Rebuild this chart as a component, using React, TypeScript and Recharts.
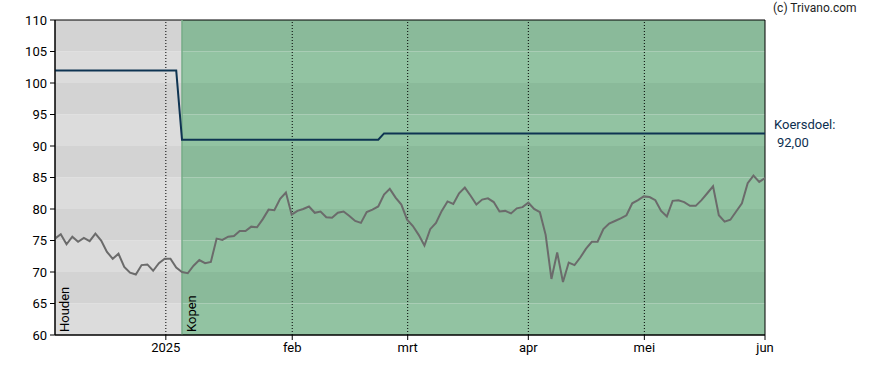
import React from "react";
import {
  LineChart,
  Line,
  XAxis,
  YAxis,
  ReferenceArea,
  ReferenceLine,
} from "recharts";

// closing price per trading day (index 0 = early Dec 2024)
const prices = [
  75.3, 76.0, 74.4, 75.6, 74.8, 75.4, 74.9, 76.1, 75.0, 73.2,
  72.1, 72.9, 70.8, 69.9, 69.6, 71.1, 71.2, 70.2, 71.4, 72.1,
  72.1, 70.7, 70.0, 69.8, 71.0, 71.9, 71.4, 71.6, 75.3, 75.1,
  75.6, 75.7, 76.5, 76.5, 77.2, 77.1, 78.4, 79.9, 79.8, 81.6,
  82.6, 79.1, 79.7, 80.0, 80.4, 79.4, 79.6, 78.7, 78.6, 79.4,
  79.6, 78.9, 78.1, 77.8, 79.5, 79.9, 80.4, 82.3, 83.2, 81.8,
  80.7, 78.3, 77.3, 75.9, 74.2, 76.8, 77.8, 79.7, 81.2, 80.8,
  82.5, 83.4, 82.1, 80.7, 81.5, 81.7, 81.1, 79.6, 79.7, 79.3,
  80.1, 80.3, 81.0, 80.0, 79.5, 75.9, 68.9, 73.1, 68.4, 71.5,
  71.1, 72.3, 73.7, 74.8, 74.8, 76.8, 77.7, 78.1, 78.5, 79.0,
  80.9, 81.4, 82.0, 81.9, 81.4, 79.7, 78.8, 81.3, 81.4, 81.1,
  80.5, 80.5, 81.4, 82.5, 83.6, 79.0, 78.0, 78.3, 79.6, 80.9,
  84.1, 85.3, 84.3, 84.9,
];

// koersdoel (price target) steps
const targetIdx = [0, 21, 22, 56, 57, 123];
const targetVals = [102, 102, 91, 91, 92, 92];

// advice zones
const adviceFrom = [0, 22];
const adviceTo = [22, 123];
const adviceLabels = ["Houden", "Kopen"];

// x axis month ticks (trading day index)
const monthTicks = [19.2, 41.1, 61.1, 82, 102.1, 123];
const monthLabels = ["2025", "feb", "mrt", "apr", "mei", "jun"];

const yTicks = [60, 65, 70, 75, 80, 85, 90, 95, 100, 105, 110];
const bandLows = [60, 65, 70, 75, 80, 85, 90, 95, 100, 105];

const zoneColors = [
  { dark: "#d3d3d3", light: "#dcdcdc" },
  { dark: "#8aba9a", light: "#92c3a2" },
];

const FONT = "Roboto, Arial, sans-serif";

const ZoneText = (props: any) => {
  const vb = props.viewBox || {};
  const x = vb.x + 14;
  const y = vb.y + vb.height - 3;
  return (
    <text
      transform={`translate(${x}, ${y}) rotate(-90)`}
      fontSize={13}
      fontFamily={FONT}
      fill="#000"
    >
      {props.text}
    </text>
  );
};

const TargetText = (props: any) => {
  const vb = props.viewBox || {};
  const x = vb.x + vb.width + 9;
  return (
    <g fontFamily={FONT} fontSize={13} fill="#0d2f4f">
      <text x={x} y={vb.y - 4}>Koersdoel:</text>
      <text x={x + 3} y={vb.y + 14}>{props.text}</text>
    </g>
  );
};

export default function App() {
  const data = prices.map((p, i) => ({ i, price: p }));
  const targetData = targetIdx.map((i, k) => ({ i, target: targetVals[k] }));
  const lastTarget = targetVals[targetVals.length - 1];

  return (
    <div style={{ position: "absolute", left: 0, top: 0, width: 888, height: 370, background: "#fff" }}>
      <div
        style={{
          position: "absolute",
          left: 773,
          top: 1,
          fontFamily: FONT,
          fontSize: 12,
          color: "#222",
        }}
      >
        (c) Trivano.com
      </div>
      <LineChart
        width={888}
        height={370}
        data={data}
        margin={{ top: 20, right: 123, bottom: 5, left: 0 }}
      >
        {adviceFrom.map((from, z) =>
          bandLows.map((lo) => (
            <ReferenceArea
              key={`${z}-${lo}`}
              x1={from}
              x2={adviceTo[z]}
              y1={lo}
              y2={lo + 5}
              fill={(lo / 5) % 2 === 1 ? zoneColors[z].dark : zoneColors[z].light}
              fillOpacity={1}
              stroke="none"
            />
          ))
        )}
        <ReferenceLine
          x={adviceFrom[1]}
          stroke="#77ad88"
          strokeWidth={1.5}
          label={(p: any) => <ZoneText {...p} text={adviceLabels[1]} />}
        />
        <ReferenceLine
          x={adviceFrom[0]}
          stroke="none"
          label={(p: any) => <ZoneText {...p} text={adviceLabels[0]} />}
        />
        {monthTicks.slice(0, -1).map((t) => (
          <ReferenceLine key={t} x={t} stroke="#000" strokeDasharray="1 2" />
        ))}
        <XAxis
          dataKey="i"
          type="number"
          domain={[0, 123]}
          ticks={monthTicks}
          tickFormatter={(v: number) => monthLabels[monthTicks.indexOf(v)]}
          height={30}
          tickSize={5}
          tickMargin={3}
          axisLine={{ stroke: "#000" }}
          tickLine={{ stroke: "#000" }}
          tick={{ fill: "#000", fontSize: 13, fontFamily: FONT }}
          allowDataOverflow
        />
        <YAxis
          type="number"
          domain={[60, 110]}
          ticks={yTicks}
          width={55}
          tickSize={5}
          tickMargin={3}
          axisLine={{ stroke: "#000" }}
          tickLine={{ stroke: "#000" }}
          tick={{ fill: "#000", fontSize: 13, fontFamily: FONT }}
          allowDataOverflow
        />
        <ReferenceArea
          x1={0}
          x2={123}
          y1={60}
          y2={110}
          fill="none"
          stroke="#000"
          strokeWidth={1}
        />
        <ReferenceLine
          y={lastTarget}
          stroke="none"
          label={(p: any) => <TargetText {...p} text={lastTarget.toFixed(2).replace(".", ",")} />}
        />
        <Line
          dataKey="price"
          stroke="#6b6b6b"
          strokeWidth={2}
          dot={false}
          isAnimationActive={false}
        />
        <Line
          data={targetData}
          dataKey="target"
          stroke="#0e3452"
          strokeWidth={2}
          dot={false}
          isAnimationActive={false}
        />
      </LineChart>
    </div>
  );
}
